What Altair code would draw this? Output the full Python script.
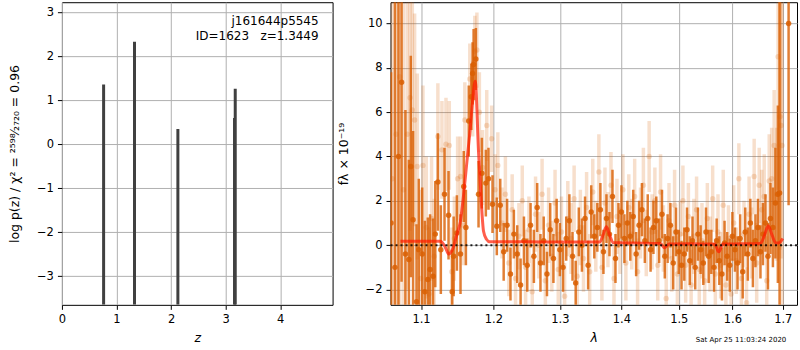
import altair as alt
import pandas as pd

# ---------------- left panel: log p(z) peaks ----------------
pz_z = [0.764, 1.33, 2.125, 3.163, 3.176]
pz_logp = [1.36, 2.33, 0.35, 0.60, 1.26]
obj_name = "j161644p5545"
obj_info = "ID=1623\u00a0\u00a0\u00a0z=1.3449"
stamp = "Sat Apr 25 11:03:24 2020"

# ---------------- right panel: spectrum 1 (dark) ----------------
a_wave = [1.061, 1.066, 1.0705, 1.0745, 1.0795, 1.084, 1.0865, 1.0895, 1.094, 1.097,
          1.1015, 1.105, 1.109, 1.112, 1.116, 1.119, 1.1225, 1.1265, 1.1315, 1.137,
          1.142, 1.144, 1.1485, 1.1535, 1.158, 1.161, 1.165, 1.1686, 1.1704, 1.1718,
          1.175, 1.1788, 1.1835, 1.1892, 1.193, 1.1988, 1.205, 1.210, 1.215, 1.220,
          1.225, 1.230, 1.235, 1.240, 1.245, 1.250, 1.255, 1.260, 1.265, 1.270,
          1.275, 1.280, 1.285, 1.290, 1.295, 1.300, 1.305, 1.310, 1.315, 1.320,
          1.325, 1.330, 1.335, 1.340, 1.345, 1.350, 1.355, 1.360, 1.365, 1.370,
          1.375, 1.380, 1.385, 1.390, 1.395, 1.400, 1.405, 1.410, 1.415, 1.420,
          1.425, 1.430, 1.435, 1.440, 1.445, 1.450, 1.455, 1.460, 1.465, 1.470,
          1.475, 1.480, 1.485, 1.490, 1.495, 1.500, 1.505, 1.510, 1.515, 1.520,
          1.525, 1.530, 1.535, 1.540, 1.545, 1.550, 1.555, 1.560, 1.565, 1.570,
          1.575, 1.580, 1.585, 1.590, 1.595, 1.600, 1.605, 1.610, 1.615, 1.620,
          1.625, 1.630, 1.635, 1.640, 1.645, 1.650, 1.655, 1.660, 1.665, 1.670,
          1.675, 1.680, 1.685, 1.690, 1.6935, 1.712]
a_flux = [1.0, -1.0, 4.0, 7.35, -0.4, -0.65, 3.55, 1.15, -2.55, -0.2,
          -0.4, -2.1, -1.55, -1.1, -1.4, 0.5, 2.85, -0.2, 2.3, 1.35,
          -2.1, -0.5, 0.55, -0.4, 2.65, 0.8, 5.6, 6.7, 7.75, 8.15,
          8.4, 2.3, 3.25, 2.8, 3.0, 1.85, 0.85, 1.8, -0.3, 0.9,
          -1.3, 0.5, -0.4, -1.8, 0.2, -0.9, 0.9, -0.5, 1.7, -0.8,
          0.2, -1.3, 0.7, -0.6, 1.1, -0.2, -1.0, 0.3, 1.1, -0.5,
          -1.7, 0.6, 0.0, 1.2, -0.9, 1.5, 0.4, 0.8, 1.6, -0.3,
          1.2, 0.5, 2.2, -0.6, 0.9, 1.5, 0.3, 1.0, 0.4, 1.3,
          -0.4, 0.9, 1.6, 0.2, 1.2, -0.2, 0.8, 1.1, 0.2, 1.4,
          -0.5, 0.3, 0.9, -0.8, 0.6, -0.3, -0.9, -0.4, 0.7, -0.7,
          0.2, -1.0, 0.5, -0.2, -0.8, 0.6, -0.5, -0.3, -1.0, 0.2,
          -0.7, -1.3, 0.1, -0.5, -0.9, 0.4, -0.2, -0.8, 0.3, -1.2,
          0.6, -0.4, 1.0, -0.6, 0.2, 0.8, -0.3, 0.5, 1.0, -0.5,
          1.2, 0.8, 1.9, 2.3, 2.35, 10.0]
a_err = [6.8, 14.0, 12.0, 9.0, 6.5, 4.5, 5.0, 4.0, 3.5, 3.2,
         3.0, 3.2, 2.8, 2.5, 2.6, 2.4, 2.2, 2.0, 2.1, 2.0,
         1.9, 1.8, 1.7, 1.8, 1.6, 1.7, 1.6, 1.5, 1.4, 1.6,
         1.4, 1.5, 1.6, 1.5, 1.4, 1.3, 1.3, 1.2, 1.3, 1.2,
         1.2, 1.1, 1.3, 1.2, 1.1, 1.2, 1.0, 1.2, 1.1, 1.3,
         1.1, 1.0, 1.2, 1.1, 1.0, 1.2, 1.1, 1.0, 1.2, 1.1,
         1.0, 1.1, 1.2, 1.0, 1.1, 1.2, 1.0, 1.1, 1.2, 1.0,
         1.1, 1.0, 1.2, 1.1, 1.0, 1.2, 1.1, 1.0, 1.1, 1.2,
         1.0, 1.1, 1.2, 1.0, 1.1, 1.0, 1.2, 1.1, 1.0, 1.1,
         1.0, 1.1, 1.0, 1.2, 1.1, 1.0, 1.1, 1.2, 1.0, 1.1,
         1.1, 1.0, 1.2, 1.1, 1.0, 1.1, 1.2, 1.0, 1.1, 1.0,
         1.1, 1.2, 1.0, 1.1, 1.2, 1.1, 1.0, 1.2, 1.1, 1.2,
         1.1, 1.2, 1.1, 1.3, 1.2, 1.3, 1.2, 1.4, 1.3, 1.5,
         1.6, 1.8, 2.5, 4.0, 20.0, 8.2]

# ---------------- right panel: spectrum 2 (light) ----------------
b_wave = [1.0625, 1.0675, 1.072, 1.077, 1.082, 1.0855, 1.0885, 1.0915, 1.095, 1.0995,
          1.1025, 1.107, 1.1105, 1.114, 1.1175, 1.1225, 1.128, 1.1335, 1.138, 1.1415,
          1.145, 1.1495, 1.1535, 1.1575, 1.1595, 1.1665, 1.1705, 1.1735, 1.1765, 1.180,
          1.1845, 1.1905, 1.1975, 1.2025, 1.2065, 1.2125, 1.2175, 1.2225, 1.2275, 1.2325,
          1.2375, 1.2425, 1.2475, 1.2525, 1.2575, 1.2625, 1.2675, 1.2725, 1.2775, 1.2825,
          1.2875, 1.2925, 1.2975, 1.3025, 1.3075, 1.3125, 1.3175, 1.3225, 1.3275, 1.3325,
          1.3375, 1.3425, 1.3475, 1.3525, 1.3575, 1.3625, 1.3675, 1.3725, 1.3775, 1.3825,
          1.3875, 1.3925, 1.3975, 1.4025, 1.4075, 1.4125, 1.4175, 1.4225, 1.4275, 1.4325,
          1.4375, 1.4425, 1.4475, 1.4525, 1.4575, 1.4625, 1.4675, 1.4725, 1.4775, 1.4825,
          1.4875, 1.4925, 1.4975, 1.5025, 1.5075, 1.5125, 1.5175, 1.5225, 1.5275, 1.5325,
          1.5375, 1.5425, 1.5475, 1.5525, 1.5575, 1.5625, 1.5675, 1.5725, 1.5775, 1.5825,
          1.5875, 1.5925, 1.5975, 1.6025, 1.6075, 1.6125, 1.6175, 1.6225, 1.6275, 1.6325,
          1.6375, 1.6425, 1.6475, 1.6525, 1.6575, 1.6625, 1.6675, 1.6725, 1.6775, 1.6825,
          1.6875, 1.6905, 1.6945, 1.6965, 1.6985]
b_flux = [3.0, 5.0, 7.6, 2.5, 5.0, 6.65, 6.1, 5.65, 3.55, -1.5,
          3.6, 0.8, -2.2, 1.2, -0.5, 4.9, 4.3, 4.55, 4.5, -1.2,
          0.3, 3.0, 3.1, 0.9, 5.65, 7.5, 6.6, 8.75, 8.8, 6.0,
          3.5, 5.4, 4.8, 2.5, 3.6, 1.0, 2.3, -0.8, 1.6, -1.5,
          0.4, 2.0, -1.0, 0.7, -2.1, 1.4, 0.0, 2.3, -1.6, 0.9,
          -0.5, 1.9, -1.1, 0.6, -2.3, 1.2, 0.3, 2.1, -1.4, 0.8,
          -0.6, 1.7, -1.2, 2.4, 0.4, 3.3, -1.0, 1.9, 0.7, 2.7,
          -1.5, 1.3, 0.2, 2.5, -0.8, 1.7, 0.5, 2.2, -1.2, 1.0,
          2.7, 0.1, 4.0, 0.6, 2.0, -0.9, 2.4, 0.3, -2.4, 1.1,
          -0.6, 1.8, -1.3, 0.5, 2.0, -0.9, 1.3, -1.8, 0.4, 1.6,
          -1.1, 0.2, -1.6, 1.2, -0.4, 2.1, -1.3, 0.6, -0.9, 1.8,
          -1.8, 0.3, -2.2, 1.0, -0.7, 3.0, -1.5, 0.5, -2.6, 1.4,
          0.1, 3.1, -0.8, 2.7, 1.6, 2.2, -1.6, 2.9, 3.0, 4.5,
          2.3, 8.5, 5.8, 5.4, 4.5]
b_err = [20.0, 20.0, 12.0, 10.0, 7.0, 6.0, 5.0, 4.8, 4.2, 4.0,
         3.6, 3.2, 3.0, 2.8, 2.6, 2.4, 2.2, 2.1, 2.0, 2.0,
         1.9, 1.9, 1.8, 1.8, 1.7, 1.6, 1.7, 1.6, 1.7, 1.8,
         1.7, 1.6, 1.5, 1.6, 1.5, 1.6, 1.7, 1.5, 1.6, 1.7,
         1.5, 1.6, 1.7, 1.5, 1.6, 1.7, 1.5, 1.6, 1.5, 1.7,
         1.6, 1.5, 1.7, 1.6, 1.5, 1.7, 1.6, 1.5, 1.6, 1.7,
         1.5, 1.6, 1.7, 1.5, 1.6, 1.7, 1.5, 1.6, 1.7, 1.5,
         1.6, 1.7, 1.5, 1.6, 1.7, 1.5, 1.6, 1.7, 1.5, 1.6,
         1.7, 1.5, 1.6, 1.7, 1.5, 1.6, 1.7, 1.5, 1.6, 1.7,
         1.5, 1.6, 1.7, 1.5, 1.6, 1.7, 1.5, 1.6, 1.7, 1.5,
         1.6, 1.7, 1.5, 1.6, 1.7, 1.5, 1.6, 1.7, 1.5, 1.6,
         1.7, 1.5, 1.6, 1.7, 1.5, 1.6, 1.7, 1.5, 1.6, 1.7,
         1.6, 1.7, 1.8, 1.7, 1.8, 1.9, 2.0, 2.1, 2.3, 2.5,
         3.0, 6.0, 6.0, 6.0, 12.0]

# ---------------- right panel: best-fit model ----------------
model_wave = [1.073, 1.100, 1.125, 1.1281, 1.1327, 1.1371, 1.1431, 1.1486, 1.1533, 1.1579,
              1.1625, 1.1672, 1.1704, 1.1741, 1.1788, 1.1826, 1.1859, 1.1901, 1.195, 1.250,
              1.300, 1.3639, 1.3693, 1.3748, 1.3804, 1.3859, 1.420, 1.4669, 1.4748, 1.4823,
              1.520, 1.5665, 1.574, 1.5816, 1.620, 1.6551, 1.6630, 1.6705, 1.6783, 1.6857,
              1.692, 1.700]
model_flux = [0.18, 0.18, 0.18, 0.14, -0.1, -0.4, -0.13, 0.5, 1.08, 2.3,
              3.8, 5.3, 6.5, 7.4, 4.2, 2.0, 0.63, 0.27, 0.15, 0.15,
              0.14, 0.14, 0.45, 0.83, 0.45, 0.12, 0.1, 0.08, -0.12, 0.05,
              0.06, 0.05, -0.3, 0.05, 0.06, 0.08, 0.45, 0.88, 0.45, 0.1,
              0.1, 0.3]

FONT = "DejaVu Sans"
ORANGE = "#d95f02"

# ---------------- left panel ----------------
pz = pd.DataFrame({"z": pz_z, "logp": pz_logp})
zx = alt.X("z:Q", scale=alt.Scale(domain=[0, 4.96], nice=False, zero=False),
           axis=alt.Axis(values=[0, 1, 2, 3, 4], format="d", title="z",
                         titleFontStyle="italic", labelFlush=False, titlePadding=7))
zy = alt.Y("logp:Q", scale=alt.Scale(domain=[-3.65, 3.23], nice=False, zero=False),
           axis=alt.Axis(values=[-3, -2, -1, 0, 1, 2, 3], format="d",
                         title="log p(z) / χ² = ²⁵⁹⁸⁄₂₇₂₀ = 0.96",
                         labelFlush=False, titlePadding=15))

spikes = alt.Chart(pz).mark_rule(color="#404040", strokeWidth=3, clip=True).encode(
    x=zx, y=zy, y2=alt.value(303))

t1 = alt.Chart(pd.DataFrame({"t": [obj_name]})).mark_text(
    align="right", baseline="middle", font=FONT, fontSize=12, color="black").encode(
    text="t:N", x=alt.value(257), y=alt.value(19))
t2 = alt.Chart(pd.DataFrame({"t": [obj_info]})).mark_text(
    align="right", baseline="middle", font=FONT, fontSize=12, color="black").encode(
    text="t:N", x=alt.value(257), y=alt.value(34))

left = alt.layer(spikes, t1, t2).properties(width=271, height=303)

# ---------------- right panel ----------------
A = pd.DataFrame({"wave": a_wave, "flux": a_flux, "err": a_err})
A["lo"] = A["flux"] - A["err"]
A["hi"] = A["flux"] + A["err"]
B = pd.DataFrame({"wave": b_wave, "flux": b_flux, "err": b_err})
B["lo"] = B["flux"] - B["err"]
B["hi"] = B["flux"] + B["err"]
M = pd.DataFrame({"wave": model_wave, "flux": model_flux})

yaxis = alt.Axis(values=[-2, 0, 2, 4, 6, 8, 10], format="d",
                 title="fλ × 10⁻¹⁹", labelFlush=False, titlePadding=15)
xs = alt.Scale(type="log", domain=[1.0603, 1.7294], nice=False, zero=False)
ys = alt.Scale(domain=[-2.69, 10.96], nice=False, zero=False)
X = alt.X("wave:Q", scale=xs,
          axis=alt.Axis(values=[1.1, 1.2, 1.3, 1.4, 1.5, 1.6, 1.7], format=".1f",
                        title="λ", titleFontStyle="italic", labelFlush=False, titlePadding=7))
Y = alt.Y("flux:Q", scale=ys, axis=yaxis)
Ylo = alt.Y("lo:Q", scale=ys, axis=yaxis)

b_bars = alt.Chart(B).mark_rule(color=ORANGE, opacity=0.2, strokeWidth=3.5, clip=True).encode(
    x=X, y=Ylo, y2="hi:Q")
b_pts = alt.Chart(B).mark_circle(color=ORANGE, opacity=0.2, size=30, clip=True).encode(x=X, y=Y)
a_bars = alt.Chart(A).mark_rule(color=ORANGE, opacity=0.8, strokeWidth=2.5, clip=True).encode(
    x=X, y=Ylo, y2="hi:Q")
a_pts = alt.Chart(A).mark_circle(color=ORANGE, opacity=0.85, size=30, clip=True).encode(x=X, y=Y)
model = alt.Chart(M).mark_line(color="#ff1a00", opacity=0.7, strokeWidth=3,
                               interpolate="monotone", clip=True).encode(x=X, y=Y)
zero = alt.Chart(pd.DataFrame({"v": [0]})).mark_rule(
    color="black", strokeDash=[2, 3], strokeWidth=2, opacity=0.85).encode(
    y=alt.Y("v:Q", scale=ys))
ts = alt.Chart(pd.DataFrame({"t": [stamp]})).mark_text(
    align="center", baseline="middle", font=FONT, fontSize=7, color="black").encode(
    text="t:N", x=alt.value(351), y=alt.value(338))

right = alt.layer(b_bars, b_pts, a_bars, a_pts, model, zero, ts).properties(width=407, height=303)

chart = alt.hconcat(left, right, spacing=3).properties(
    padding={"left": 8, "top": 1, "right": 1, "bottom": 1}
).configure_view(stroke="black", strokeWidth=1).configure_axis(
    grid=True, gridColor="#b0b0b0", gridWidth=1, domain=False,
    tickColor="black", tickSize=4.5, tickWidth=1,
    labelFont=FONT, labelFontSize=11.5, labelColor="black", labelPadding=4,
    titleFont=FONT, titleFontSize=12.5, titleFontWeight="normal", titleColor="black"
)

chart.save("out.html", embed_options={"renderer": "svg", "actions": False})
